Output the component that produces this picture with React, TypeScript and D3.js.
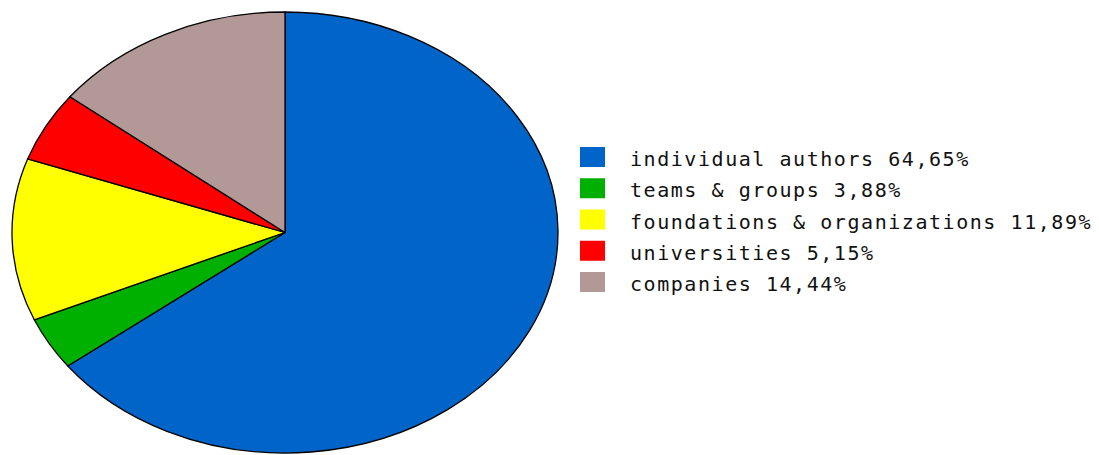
import React from "react";
import * as d3 from "d3";

const categories = [
  "individual authors",
  "teams & groups",
  "foundations & organizations",
  "universities",
  "companies",
];
const values = [64.65, 3.88, 11.89, 5.15, 14.44];
const valueLabels = ["64,65%", "3,88%", "11,89%", "5,15%", "14,44%"];
const colors = ["#0064c8", "#00b000", "#ffff00", "#ff0000", "#b39898"];

const W = 1099;
const H = 455;
const cx = 285;
const cy = 232.5;
const rx = 273;
const ry = 220.5;

export default function App() {
  const pie = d3
    .pie<number>()
    .sort(null)
    .startAngle(0)
    .endAngle(2 * Math.PI)
    .value((d) => d);
  const arcs = pie(values);
  const arc = d3.arc<d3.PieArcDatum<number>>().innerRadius(0).outerRadius(ry);

  const legendY = d3
    .scalePoint<number>()
    .domain(d3.range(categories.length))
    .range([147, 272]);

  return (
    <svg
      width={W}
      height={H}
      style={{ position: "absolute", left: 0, top: 0, background: "#fff" }}
    >
      <g transform={`translate(${cx},${cy}) scale(${rx / ry},1)`}>
        {arcs.map((a, i) => (
          <path
            key={i}
            d={arc(a) || ""}
            fill={colors[i]}
            stroke="#000"
            strokeWidth={1.3}
            vectorEffect="non-scaling-stroke"
            strokeLinejoin="round"
          />
        ))}
      </g>
      <g>
        {categories.map((c, i) => (
          <g key={c} transform={`translate(580,${legendY(i)})`}>
            <rect width={25} height={20} fill={colors[i]} />
            <text
              x={50}
              y={19}
              fontFamily="'DejaVu Sans Mono', monospace"
              fontSize={20}
              letterSpacing={1.55}
              fill="#111"
            >
              {`${c} ${valueLabels[i]}`}
            </text>
          </g>
        ))}
      </g>
    </svg>
  );
}
